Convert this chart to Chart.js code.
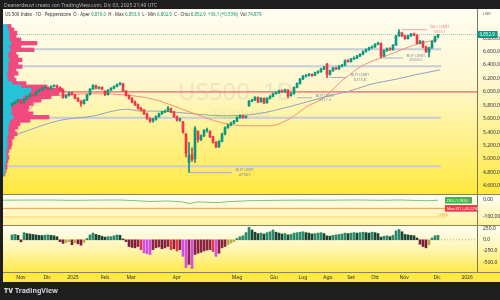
<!DOCTYPE html>
<html>
<head>
<meta charset="utf-8">
<script src="https://cdn.jsdelivr.net/npm/chart.js@4.4.1/dist/chart.umd.min.js"></script>
<style>
  html, body { margin: 0; padding: 0; background: #1e1e1e; }
  #wrap { position: relative; width: 500px; height: 300px; overflow: hidden; }
  #chart { position: absolute; left: 0; top: 0; }
  .hdr { position: absolute; left: 4px; top: 1.5px; font: 5px "Noto Sans", sans-serif; color: #b4b4b4; white-space: nowrap; }
  .leg { position: absolute; left: 5px; top: 11.3px; font: 4.4px "Noto Sans", sans-serif; color: #2a2e39; white-space: nowrap; }
  .leg b { font-weight: normal; color: #089981; }
  .ftr { position: absolute; left: 4px; top: 286px; font: bold 7px "Noto Sans", sans-serif; color: #d1d4dc; white-space: nowrap; }
  .ftr span { font-weight: 900; margin-right: 2px; }
</style>
</head>
<body>
<div id="wrap">
  <canvas id="chart" width="500" height="300"></canvas>
  <div class="hdr">Deanerdeuvi creato con TradingView.com, Dic 03, 2025 21:49 UTC</div>
  <div class="leg">US 500 Index · 1D · Pepperstone &nbsp;O · Aper <b>6,819.0</b> &nbsp;H · Max <b>6,853.9</b> &nbsp;L · Min <b>6,802.9</b> &nbsp;C · Chiu <b>6,852.9 &nbsp;+36.1 (+0.53%)</b> &nbsp;Vol <b>74,879</b></div>
  <div class="ftr"><span>TV</span>TradingView</div>
</div>
<script>
// daily candles (bar 0 .. 142)
const opens = [
  5800, 5823, 5850, 5877, 5836, 5891, 5932, 5959, 5945, 6000,
  6027, 6054, 6068, 6041, 6082, 6095, 6068, 6027, 5918, 5945,
  5986, 5959, 5905, 5864, 5823, 5877, 5959, 6041, 6095, 6054,
  6068, 6010, 5959, 6027, 6054, 6082, 6109, 6123, 6014, 5945,
  5905, 5850, 5809, 5754, 5727, 5673, 5604, 5564, 5591, 5632,
  5673, 5700, 5714, 5754, 5700, 5632, 5577, 5550, 5373, 4950,
  5059, 5005, 5414, 5291, 5345, 5427, 5414, 5332, 5250, 5182,
  5264, 5373, 5468, 5509, 5536, 5564, 5618, 5645, 5618, 5795,
  5864, 5877, 5918, 5850, 5905, 5836, 5905, 5932, 5973, 5986,
  6014, 6000, 6027, 5945, 5973, 6068, 6123, 6191, 6232, 6245,
  6259, 6245, 6286, 6300, 6341, 6409, 6259, 6314, 6354, 6341,
  6382, 6395, 6464, 6450, 6491, 6505, 6532, 6559, 6600, 6627,
  6655, 6668, 6709, 6723, 6532, 6614, 6641, 6627, 6695, 6832,
  6873, 6832, 6791, 6832, 6859, 6846, 6723, 6750, 6668, 6586,
  6655, 6750, 6819
];
const highs = [
  5840, 5862, 5890, 5885, 5900, 5945, 5970, 5968, 6010, 6040,
  6065, 6085, 6075, 6090, 6105, 6100, 6075, 6035, 5960, 5995,
  5995, 5965, 5915, 5870, 5885, 5965, 6050, 6110, 6100, 6080,
  6075, 6020, 6035, 6065, 6090, 6120, 6140, 6128, 6020, 5960,
  5915, 5865, 5820, 5775, 5740, 5685, 5615, 5605, 5645, 5685,
  5712, 5730, 5785, 5760, 5710, 5640, 5610, 5560, 5380, 5250,
  5168, 5482, 5420, 5360, 5440, 5460, 5420, 5340, 5260, 5275,
  5385, 5480, 5520, 5550, 5575, 5630, 5660, 5655, 5645, 5870,
  5890, 5930, 5925, 5915, 5910, 5915, 5945, 5985, 6000, 6025,
  6030, 6040, 6035, 5985, 6075, 6135, 6200, 6245, 6260, 6275,
  6270, 6295, 6315, 6350, 6380, 6423, 6325, 6365, 6370, 6390,
  6410, 6475, 6480, 6500, 6520, 6545, 6570, 6610, 6640, 6665,
  6685, 6720, 6740, 6730, 6625, 6655, 6660, 6705, 6840, 6925,
  6890, 6845, 6845, 6870, 6875, 6850, 6765, 6760, 6680, 6665,
  6760, 6830, 6853.9
];
const lows = [
  5790, 5815, 5840, 5825, 5830, 5885, 5925, 5935, 5940, 5992,
  6020, 6045, 6030, 6035, 6070, 6060, 6015, 5905, 5905, 5935,
  5950, 5895, 5855, 5782, 5815, 5870, 5950, 6035, 6045, 6040,
  6030, 5945, 5950, 6020, 6045, 6075, 6100, 6005, 5935, 5890,
  5835, 5795, 5740, 5715, 5660, 5590, 5545, 5550, 5580, 5625,
  5665, 5690, 5705, 5690, 5620, 5565, 5560, 5385, 5032, 4800,
  4964, 4950, 5250, 5275, 5335, 5400, 5320, 5235, 5170, 5175,
  5255, 5360, 5455, 5495, 5525, 5555, 5605, 5605, 5610, 5785,
  5855, 5870, 5840, 5845, 5825, 5830, 5895, 5925, 5965, 5975,
  5990, 5990, 5911, 5935, 5965, 6060, 6115, 6180, 6220, 6235,
  6230, 6240, 6275, 6290, 6330, 6212, 6250, 6305, 6330, 6335,
  6370, 6385, 6440, 6440, 6480, 6495, 6525, 6550, 6590, 6615,
  6645, 6660, 6700, 6503, 6525, 6600, 6615, 6620, 6690, 6825,
  6820, 6780, 6785, 6825, 6835, 6710, 6715, 6655, 6585, 6518,
  6645, 6740, 6802.9
];
const closes = [
  5823, 5850, 5877, 5836, 5891, 5932, 5959, 5945, 6000, 6027,
  6054, 6068, 6041, 6082, 6095, 6068, 6027, 5918, 5945, 5986,
  5959, 5905, 5864, 5823, 5877, 5959, 6041, 6095, 6054, 6068,
  6041, 5959, 6027, 6054, 6082, 6109, 6123, 6014, 5945, 5905,
  5850, 5809, 5754, 5727, 5673, 5604, 5564, 5591, 5632, 5673,
  5700, 5714, 5754, 5700, 5632, 5577, 5591, 5400, 5086, 5059,
  4991, 5455, 5291, 5345, 5427, 5441, 5332, 5250, 5182, 5264,
  5373, 5468, 5509, 5536, 5564, 5618, 5645, 5618, 5632, 5864,
  5877, 5918, 5850, 5905, 5836, 5905, 5932, 5973, 5986, 6014,
  6000, 6027, 5945, 5973, 6068, 6123, 6191, 6232, 6245, 6259,
  6245, 6286, 6300, 6341, 6368, 6259, 6314, 6354, 6341, 6382,
  6395, 6464, 6450, 6491, 6505, 6532, 6559, 6600, 6627, 6655,
  6668, 6709, 6723, 6532, 6614, 6641, 6627, 6695, 6832, 6886,
  6832, 6791, 6832, 6859, 6846, 6723, 6750, 6668, 6600, 6655,
  6750, 6818, 6852.9
];

// momentum histogram (lower pane), one value per candle
const momentum = [
  110, 120, 100, -45, 160, 140, 130, 120, 110, 100,
  95, 105, 110, 100, 90, 70, -40, -80, -60, -40,
  -110, -70, -90, -120, -60, 30, 110, 150, 120, 100,
  80, 60, 70, 70, 90, 110, 100, 20, -40, -150,
  -170, -180, -150, -220, -290, -310, -330, -220, -180, -160,
  -200, -180, -150, -220, -200, -250, -220, -370, -620, -550,
  -640, -330, -300, -280, -250, -230, -220, -260, -370, -300,
  -180, -150, -110, -70, -40, 30, 70, 90, 160, 280,
  220, 170, 140, 150, 130, 160, 180, 220, 170, 150,
  130, 140, 110, 120, 150, 160, 170, 180, 160, 150,
  130, 140, 150, 160, 140, 90, 80, 100, 110, 120,
  130, 150, 140, 150, 160, 150, 160, 170, 160, 150,
  170, 160, 140, 60, 80, 90, 70, 100, 200, 230,
  180, 120, 110, 100, 90, 40, -100, -150, -180, -110,
  40, 90, 100
];

// moving averages, sampled at bar positions
const maFastIdx = [0, 4, 6, 9.3, 13.7, 26, 36, 47, 59.3, 70.3, 78.3, 86, 92.7, 98.3, 103.7, 110.3, 117, 123.7, 128.3, 136, 142];
const maFast = [5640, 5673, 5741, 5918, 5945, 5973, 5959, 5891, 5700, 5536, 5495, 5495, 5604, 5782, 5905, 6177, 6395, 6518, 6600, 6723, 6777];
const maSlowIdx = [-3, 1, 16, 26, 38.3, 42.7, 48.3, 53.7, 70.3, 81.7, 92.7, 103.7, 112.7, 119.3, 128.3, 135, 142.7];
const maSlow = [5300, 5359, 5577, 5632, 5741, 5714, 5714, 5700, 5645, 5673, 5782, 5918, 6014, 6109, 6191, 6259, 6327];

// drawdown pane (%)
const ddIdx = [-3, 2, 8, 13, 20, 26, 36, 42, 46, 52, 57, 59, 62, 68, 72, 79, 88, 95, 105, 115, 123, 129, 138, 142];
const ddVals = [-1.5, -0.8, -0.5, -0.2, -2.5, -1.0, 0, -5, -9, -6, -12, -21, -11, -16, -10, -4.5, -2, -1, -1.5, 0, -2, 0, -4.5, -1.76];
const maxDD = -49.22;
const ddFloor = -100;

// volume profile (left), bins of 50 points
const vpPrices = [6975, 6925, 6875, 6825, 6775, 6725, 6675, 6625, 6575, 6525, 6475, 6425, 6375, 6325, 6275, 6225, 6175, 6125, 6075, 6025, 5975, 5925, 5875, 5825, 5775, 5725, 5675, 5625, 5575, 5525, 5475, 5425, 5375, 5325, 5275, 5225, 5175, 5125, 5075, 5025, 4975, 4925, 4875, 4825, 4775];
const vpUp =   [4, 5, 6, 6, 6, 8, 6, 7, 5, 5, 6, 5, 5, 5, 4, 4, 5, 9, 18, 28, 26, 20, 13, 10, 8, 8, 8, 10, 7, 6, 5, 5, 5, 4, 4, 4, 4, 3, 3, 3, 3, 2, 2, 2, 1];
const vpDown = [4, 6, 8, 7, 12, 26, 12, 24, 8, 10, 13, 10, 14, 8, 11, 7, 8, 14, 26, 32, 30, 28, 25, 20, 18, 17, 22, 36, 20, 11, 10, 7, 9, 7, 5, 5, 4, 3, 2, 3, 2, 2, 2, 1, 1];

// horizontal levels and orders
const supportLevels = [6634, 6382, 5614, 4895];
const pivotLevel = 6000;
const limitKinds = ["SELL", "BUY", "BUY", "BUY", "BUY"];
const limitPrices = [6925.1, 6503.0, 6213.8, 5911.3, 4798.5];
const limitFrom = [130, 123.7, 106, 95, 59.3];
const limitTo = [138.3, 130.3, 111.7, 100, 73.3];

// axes
const monthLabels = ["Nov", "Dic", "2025", "Feb", "Mar", "Apr", "Mag", "Giu", "Lug", "Ago", "Set", "Ott", "Nov", "Dic", "2026"];
const monthPos = [3, 11.7, 20.3, 31, 39.7, 55, 75, 87.3, 97, 105.3, 113, 121, 130.7, 141.7, 151.7];
const priceTicks = [6800, 6600, 6400, 6200, 6000, 5800, 5600, 5400, 5200, 5000, 4800, 4600];
const ddTicks = [0, -100];
const momTicks = [250, 0, -250, -500];

const UP = "#089981";
const DOWN = "#f23645";
const last = closes.length - 1;
const fmt1 = (v) => v.toLocaleString("en-US", { minimumFractionDigits: 1, maximumFractionDigits: 1 });

Chart.defaults.font.family = "'Noto Sans', sans-serif";

const candleColor = (c) => closes[c.dataIndex] >= opens[c.dataIndex] ? UP : DOWN;

const momColor = (c) => {
  const v = momentum[c.dataIndex];
  const prev = c.dataIndex > 0 ? momentum[c.dataIndex - 1] : v;
  if (v >= 0) return v >= prev ? "#2a8a6f" : "#1b4637";
  if (v <= -280 && v <= prev) return "#d24cf0";
  if (v < prev) return v < -200 ? "#e0393e" : "#7a1c3f";
  return v > -120 ? "#b9a646" : "#8a2445";
};

const flatLine = (value, from, to, color, width, axis, dash) => ({
  type: "line",
  data: [{ x: from, y: value }, { x: to, y: value }],
  borderColor: color,
  borderWidth: width,
  borderDash: dash || [],
  pointRadius: 0,
  yAxisID: axis,
  order: 6
});

const datasets = [
  {
    label: "bodies",
    data: closes.map((c, i) => ({ x: i, y: [opens[i], c] })),
    backgroundColor: candleColor,
    barThickness: 2,
    minBarLength: 1,
    grouped: false,
    yAxisID: "y",
    order: 0
  },
  {
    label: "wicks",
    data: closes.map((c, i) => ({ x: i, y: [lows[i], highs[i]] })),
    backgroundColor: candleColor,
    barThickness: 1,
    grouped: false,
    yAxisID: "y",
    order: 1
  },
  {
    label: "vp up",
    indexAxis: "y",
    data: vpPrices.map((p, i) => ({ x: vpUp[i], y: p })),
    backgroundColor: "#26c2d8",
    barThickness: 3.7,
    grouped: false,
    stack: "vp",
    xAxisID: "xv",
    yAxisID: "y",
    order: 2
  },
  {
    label: "vp down",
    indexAxis: "y",
    data: vpPrices.map((p, i) => ({ x: vpDown[i], y: p })),
    backgroundColor: "#f2497f",
    barThickness: 3.7,
    grouped: false,
    stack: "vp",
    xAxisID: "xv",
    yAxisID: "y",
    order: 2
  },
  {
    type: "line",
    label: "ma fast",
    data: maFastIdx.map((x, i) => ({ x: x, y: maFast[i] })),
    borderColor: "#f5927a",
    borderWidth: 1,
    pointRadius: 0,
    cubicInterpolationMode: "monotone",
    yAxisID: "y",
    order: 3
  },
  {
    type: "line",
    label: "ma slow",
    data: maSlowIdx.map((x, i) => ({ x: x, y: maSlow[i] })),
    borderColor: "#93a3c6",
    borderWidth: 1,
    pointRadius: 0,
    cubicInterpolationMode: "monotone",
    yAxisID: "y",
    order: 3
  },
  ...supportLevels.map((v) => flatLine(v, -3, 143, "#c6ccd8", 2, "y")),
  flatLine(pivotLevel, -3, 155, "#f0606e", 1.3, "y"),
  flatLine(closes[last], -3, 155, "rgba(8,153,129,0.45)", 1, "y", [1, 1]),
  ...limitPrices.map((p, i) => flatLine(p, limitFrom[i], limitTo[i], limitKinds[i] === "SELL" ? "#f7a3b0" : "#a3aec8", 1, "y")),
  {
    type: "line",
    label: "drawdown",
    data: ddIdx.map((x, i) => ({ x: x, y: ddVals[i] })),
    borderColor: "#7cc47f",
    borderWidth: 1,
    pointRadius: 0,
    yAxisID: "y2",
    order: 2
  },
  flatLine(maxDD, -3, 145, "#f39a4c", 1, "y2"),
  flatLine(ddFloor, -3, 145, "#f7cf7a", 1, "y2"),
  {
    label: "momentum",
    data: momentum.map((v, i) => ({ x: i, y: v })),
    backgroundColor: momColor,
    barThickness: 2,
    grouped: false,
    yAxisID: "y3",
    order: 1
  },
  flatLine(0, 143, 155, "#b8ad7a", 1, "y3", [1, 2])
];

const tickFont = { size: 5 };
const rightAxis = (min, max, weight, stackWeight, ticks, fmt) => ({
  type: "linear",
  position: "right",
  stack: "panes",
  stackWeight: stackWeight,
  weight: weight,
  min: min,
  max: max,
  stacked: false,
  grid: { display: false, drawTicks: false },
  border: { display: true, color: "#7d7756" },
  afterBuildTicks: (s) => { s.ticks = ticks.map((v) => ({ value: v })); },
  afterFit: (s) => { s.width = 23; },
  ticks: { font: tickFont, color: "#2a2e39", padding: 6, autoSkip: false, callback: fmt }
});

const paneDecor = {
  id: "paneDecor",
  beforeDraw(chart) {
    const { ctx, scales, width } = chart;
    const pane = (s, stops) => {
      const g = ctx.createLinearGradient(0, s.top, 0, s.bottom);
      stops.forEach(([o, c]) => g.addColorStop(o, c));
      ctx.fillStyle = g;
      ctx.fillRect(3, s.top, width - 3, s.bottom - s.top);
    };
    ctx.save();
    pane(scales.y, [[0, "#fffdf2"], [0.4, "#fff8cf"], [0.75, "#fff07e"], [1, "#ffe83c"]]);
    pane(scales.y2, [[0, "#fffef8"], [1, "#fff3a0"]]);
    pane(scales.y3, [[0, "#fffef6"], [0.5, "#fff6b4"], [1, "#ffe94a"]]);
    ctx.fillStyle = "#ffea3f";
    ctx.fillRect(3, scales.x.top, width - 3, scales.x.bottom - scales.x.top);
    ctx.restore();
  },
  beforeDatasetsDraw(chart) {
    const { ctx } = chart;
    ctx.save();
    ctx.fillStyle = "rgba(150,150,150,0.17)";
    ctx.textAlign = "center";
    ctx.textBaseline = "middle";
    ctx.font = "24px 'Noto Sans', sans-serif";
    ctx.fillText("US500, 1D", 236, 93);
    ctx.font = "9px 'Noto Sans', sans-serif";
    ctx.fillText("US 500 Index", 242, 114);
    ctx.restore();
  },
  afterDraw(chart) {
    const { ctx, scales, width } = chart;
    const { x, y, y2 } = scales;
    ctx.save();
    // pane separators
    ctx.strokeStyle = "#8a845c";
    ctx.lineWidth = 1;
    [scales.y2.top, scales.y3.top, x.top].forEach((yy) => {
      ctx.beginPath();
      ctx.moveTo(3, Math.round(yy) + 0.5);
      ctx.lineTo(width, Math.round(yy) + 0.5);
      ctx.stroke();
    });
    // order labels
    ctx.textAlign = "center";
    ctx.textBaseline = "middle";
    ctx.font = "3.8px 'Noto Sans', sans-serif";
    limitPrices.forEach((p, i) => {
      const px = x.getPixelForValue(limitTo[i] + 4.3);
      const py = y.getPixelForValue(p);
      ctx.fillStyle = limitKinds[i] === "SELL" ? "#f47d91" : "#7d8cb0";
      ctx.fillText(limitKinds[i] + " LIMIT", px, py - 2.3);
      ctx.fillText(p.toFixed(1), px, py + 2.3);
    });
    // USD
    ctx.fillStyle = "#555";
    ctx.font = "4px 'Noto Sans', sans-serif";
    ctx.textAlign = "left";
    ctx.fillText("USD", 483, 14);
    // last price badge
    const lp = y.getPixelForValue(closes[last]);
    ctx.fillStyle = UP;
    ctx.fillRect(477.5, lp - 3.5, 20, 7);
    ctx.fillStyle = "#fff";
    ctx.font = "4.5px 'Noto Sans', sans-serif";
    ctx.fillText(fmt1(closes[last]), 479.5, lp + 0.3);
    // drawdown badges
    const dp = y2.getPixelForValue(ddVals[ddVals.length - 1]);
    ctx.fillStyle = "#4caf50";
    ctx.fillRect(445, dp - 3.3, 27, 6.6);
    const mp = y2.getPixelForValue(maxDD);
    ctx.fillStyle = "#f23645";
    ctx.fillRect(445, mp - 3.3, 32, 6.6);
    ctx.fillStyle = "#fff";
    ctx.font = "3.8px 'Noto Sans', sans-serif";
    ctx.fillText("DD (" + ddVals[ddVals.length - 1].toFixed(2) + "%)", 447, dp + 0.2);
    ctx.fillText("Max DD (" + maxDD.toFixed(2) + "%)", 447, mp + 0.2);
    ctx.fillStyle = "#f0a030";
    ctx.font = "3.5px 'Noto Sans', sans-serif";
    ctx.textAlign = "center";
    ctx.fillText(ddFloor + "%", 443, y2.getPixelForValue(ddFloor) - 2);
    ctx.restore();
  }
};

new Chart(document.getElementById("chart"), {
  type: "bar",
  data: { datasets: datasets },
  options: {
    responsive: false,
    animation: false,
    events: [],
    layout: { padding: { top: 9, left: 3, right: 0, bottom: 18 }, autoPadding: false },
    plugins: { legend: { display: false }, tooltip: { enabled: false } },
    scales: {
      x: {
        type: "linear",
        position: "bottom",
        min: -3,
        max: 155,
        offset: false,
        grid: { display: false, drawTicks: false },
        border: { display: false },
        afterBuildTicks: (s) => { s.ticks = monthPos.map((v) => ({ value: v })); },
        afterFit: (s) => { s.height = 10; },
        ticks: { font: tickFont, color: "#2a2e39", padding: 2.5, autoSkip: false, maxRotation: 0, callback: (v, i) => monthLabels[i] }
      },
      xv: { type: "linear", position: "bottom", min: 0, max: 474, offset: false, display: false, stacked: true },
      y: rightAxis(4595, 7118, 1, 185, priceTicks, (v) => fmt1(v)),
      y2: rightAxis(-147, 35, 2, 31, ddTicks, (v) => v.toFixed(2)),
      y3: rightAxis(-720, 331, 3, 47, momTicks, (v) => v.toFixed(1))
    }
  },
  plugins: [paneDecor]
});
</script>
</body>
</html>
